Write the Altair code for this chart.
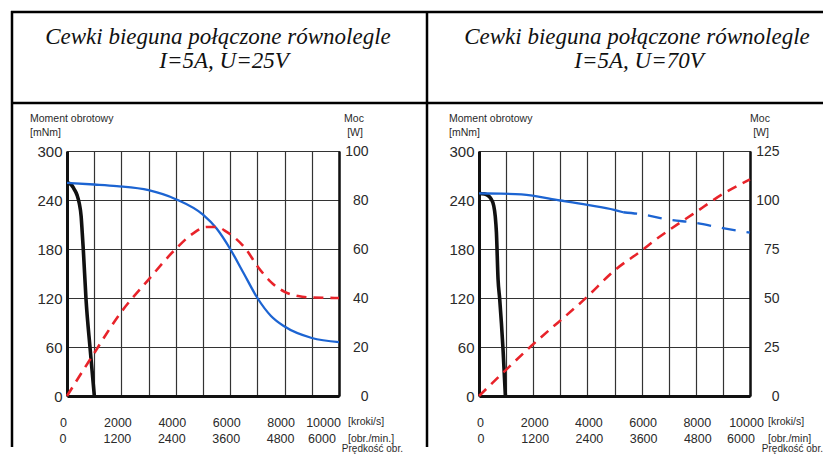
import altair as alt
import pandas as pd

FONT = "Liberation Sans"
SERIF = "Liberation Serif"
INK = "#111111"
TXT = "#2a2a2a"
GRID = "#333333"
RED = "#e8232a"
BLUE = "#1c64d2"

# ---------- shared axis data ----------
speed_grid = [0, 1000, 2000, 3000, 4000, 5000, 6000, 7000, 8000, 9000, 10000]
speed_ticks = [0, 2000, 4000, 6000, 8000, 10000]
rpm_labels = ["0", "1200", "2400", "3600", "4800", "6000"]
torque_ticks = [0, 60, 120, 180, 240, 300]

# ---------- panel 1 : U=25V ----------
p1_title = ["Cewki bieguna połączone równolegle", "I=5A, U=25V"]
p1_rpm_unit = "[obr./min.]"
p1_power_ticks = [0, 20, 40, 60, 80, 100]
p1_black_x = [0, 150, 250, 370, 450, 520, 560, 600, 700, 850, 1005]
p1_black_y = [261, 259, 254, 246, 236, 220, 200, 179, 118, 58, 0]
p1_blue_x = [0, 1000, 1830, 3000, 4000, 5000, 5500, 6000, 6500, 7000, 7500, 8000, 9000, 10000]
p1_blue_y = [261, 259, 257, 252, 241, 222, 205, 180, 150, 120, 98, 85, 71, 66]
p1_red_x = [0, 970, 1975, 2990, 3995, 4640, 5130, 5500, 5870, 6600, 7000, 7500, 8000, 8500, 9000, 10000]
p1_red_y = [0, 17, 34, 47.4, 60, 66.4, 69, 69, 67, 59.6, 53, 46.5, 42.5, 40.8, 40.2, 40]

# ---------- panel 2 : U=70V ----------
p2_title = ["Cewki bieguna połączone równolegle", "I=5A, U=70V"]
p2_rpm_unit = "[obr./min]"
p2_power_ticks = [0, 25, 50, 75, 100, 125]
p2_black_x = [0, 200, 333, 450, 543, 600, 643, 703, 764, 887, 974]
p2_black_y = [248, 247.5, 245.5, 241, 233, 220, 200, 143, 118.7, 57, 0]
p2_blue_solid_x = [0, 800, 1566, 3000, 4000, 4987, 5320]
p2_blue_solid_y = [248, 247.8, 246.8, 239.4, 234, 228, 225]
p2_blue_dash_x = [5320, 6000, 7000, 8000, 9000, 10000]
p2_blue_dash_y = [225, 222.5, 216, 212, 205.5, 200]
p2_red_x = [0, 1936, 4003, 4987, 5998, 6550, 7000, 7905, 9013, 10000]
p2_red_y = [0, 25.6, 50.8, 63.9, 74.2, 80.1, 84.5, 92.9, 103.2, 110.5]

W1, W2, H = 272, 271, 245


def df(xs, ys):
    return pd.DataFrame({"x": xs, "y": ys})


def txt(text, x, y, size, align="left", font=FONT, style="normal", baseline="middle", color=TXT):
    return alt.Chart(pd.DataFrame({"t": [text]})).mark_text(
        align=align, baseline=baseline, font=font, fontSize=size, fontStyle=style, color=color
    ).encode(x=alt.value(x), y=alt.value(y), text="t:N")


def hrule(x1, x2, y, w=2.5):
    return alt.Chart(pd.DataFrame({"a": [0]})).mark_rule(color="black", strokeWidth=w).encode(
        x=alt.value(x1), x2=alt.value(x2), y=alt.value(y))


def vrule(x, y1, y2, w=2.5):
    return alt.Chart(pd.DataFrame({"a": [0]})).mark_rule(color="black", strokeWidth=w).encode(
        x=alt.value(x), y=alt.value(y1), y2=alt.value(y2))


def panel(width, title, rpm_unit, t1x, t2x, black, blue_solid, blue_dash, red, pmax, pticks,
          left_txt_x, moc_x, unit_dx, pred_dx, off_main, off_last, r2_main, r2_last, decor):
    label_expr = f"indexof({speed_ticks}, datum.value) >= 0 ? datum.label : ''"
    xaxis = alt.Axis(values=speed_grid, labelExpr=label_expr, format="d", grid=True,
                     gridColor=GRID, gridWidth=1.2, ticks=False, domainColor=INK,
                     domainWidth=3, labelFont=FONT, labelFontSize=12.5, labelColor=TXT,
                     labelPadding=26, labelBaseline="middle", labelOverlap=False,
                     labelFlush=False, title=None,
                     labelOffset={"condition": {"test": f"datum.value == {speed_ticks[-1]}",
                                                "value": off_last}, "value": off_main})
    X = alt.X("x:Q", scale=alt.Scale(domain=[0, 10000], nice=False, zero=False), axis=xaxis)
    yl_axis = alt.Axis(values=torque_ticks, grid=True, gridColor=GRID, gridWidth=1.2,
                       ticks=False, domainColor=INK, domainWidth=3, labelFont=FONT,
                       labelFontSize=15, labelColor=TXT, labelPadding=5, title=None)
    YL = alt.Y("y:Q", scale=alt.Scale(domain=[0, 300], nice=False, zero=False), axis=yl_axis)
    yr_axis = alt.Axis(values=pticks, orient="right", grid=False, ticks=False,
                       domainColor=INK, domainWidth=2.5, labelFont=FONT, labelFontSize=14,
                       labelColor=TXT, labelAlign="right", labelPadding=29, title=None)
    YR = alt.Y("y:Q", scale=alt.Scale(domain=[0, pmax], nice=False, zero=False), axis=yr_axis)

    layers = list(decor)
    layers.append(alt.Chart(df(*black)).mark_line(color=INK, strokeWidth=3.6,
                                                  interpolate="monotone").encode(x=X, y=YL))
    layers.append(alt.Chart(df(*blue_solid)).mark_line(color=BLUE, strokeWidth=2.3,
                                                       interpolate="monotone").encode(x=X, y=YL))
    if blue_dash is not None:
        layers.append(alt.Chart(df(*blue_dash)).mark_line(
            color=BLUE, strokeWidth=2.3, strokeDash=[14, 11], interpolate="monotone"
        ).encode(x=X, y=YL))
    # second row of speed labels (obr./min)
    layers.append(alt.Chart(pd.DataFrame({"x": speed_ticks[:-1], "t": rpm_labels[:-1]})).mark_text(
        font=FONT, fontSize=12.5, color=TXT, baseline="middle", dx=r2_main
    ).encode(x=X, y=alt.value(H + 43), text="t:N"))
    layers.append(alt.Chart(pd.DataFrame({"x": speed_ticks[-1:], "t": rpm_labels[-1:]})).mark_text(
        font=FONT, fontSize=12.5, color=TXT, baseline="middle", dx=r2_last
    ).encode(x=X, y=alt.value(H + 43), text="t:N"))
    layers += [
        txt(title[0], t1x, -107, 23, align="center", font=SERIF, style="italic",
            baseline="alphabetic", color="#111"),
        txt(title[1], t2x, -83, 23, align="center", font=SERIF, style="italic",
            baseline="alphabetic", color="#111"),
        txt("Moment obrotowy", left_txt_x, -32, 10.5),
        txt("[mNm]", left_txt_x, -18, 10.5),
        txt("Moc", moc_x, -32, 10.5, align="center"),
        txt("[W]", moc_x + 1, -18, 10.5, align="center"),
        txt("[kroki/s]", width + unit_dx, H + 26, 10.5),
        txt(rpm_unit, width + unit_dx, H + 43, 10.5),
        txt("Prędkość obr.", width + pred_dx, H + 52.5, 10, align="right"),
    ]
    inner = alt.layer(*layers)
    red_layer = alt.Chart(df(*red)).mark_line(
        color=RED, strokeWidth=2.6, strokeDash=[10, 7], interpolate="monotone"
    ).encode(x=X, y=YR)
    return alt.layer(inner, red_layer).resolve_scale(y="independent").properties(
        width=width, height=H)


decor1 = [
    hrule(-56, 756, -139),
    hrule(-56, 756, -48),
    vrule(-55, -140, 296),
    vrule(360, -140, 296),
]

c1 = panel(W1, p1_title, p1_rpm_unit, 151, 157, (p1_black_x, p1_black_y),
           (p1_blue_x, p1_blue_y), None,
           (p1_red_x, p1_red_y), 100, p1_power_ticks, -37, 287, 9, 64,
           -4, -16, -4, -17, decor1)
c2 = panel(W2, p2_title, p2_rpm_unit, 158, 160, (p2_black_x, p2_black_y),
           (p2_blue_solid_x, p2_blue_solid_y), (p2_blue_dash_x, p2_blue_dash_y),
           (p2_red_x, p2_red_y), 125, p2_power_ticks, -30, 281, 18, 73,
           1, -4, 2, -9, [])

chart = alt.hconcat(c1, c2, spacing=140, bounds="flush").properties(
    padding={"left": 1, "top": 1, "right": 0, "bottom": 0},
    background="white",
).configure_view(stroke=INK, strokeWidth=1)

chart.save("out.html", embed_options={"renderer": "svg", "actions": False})
